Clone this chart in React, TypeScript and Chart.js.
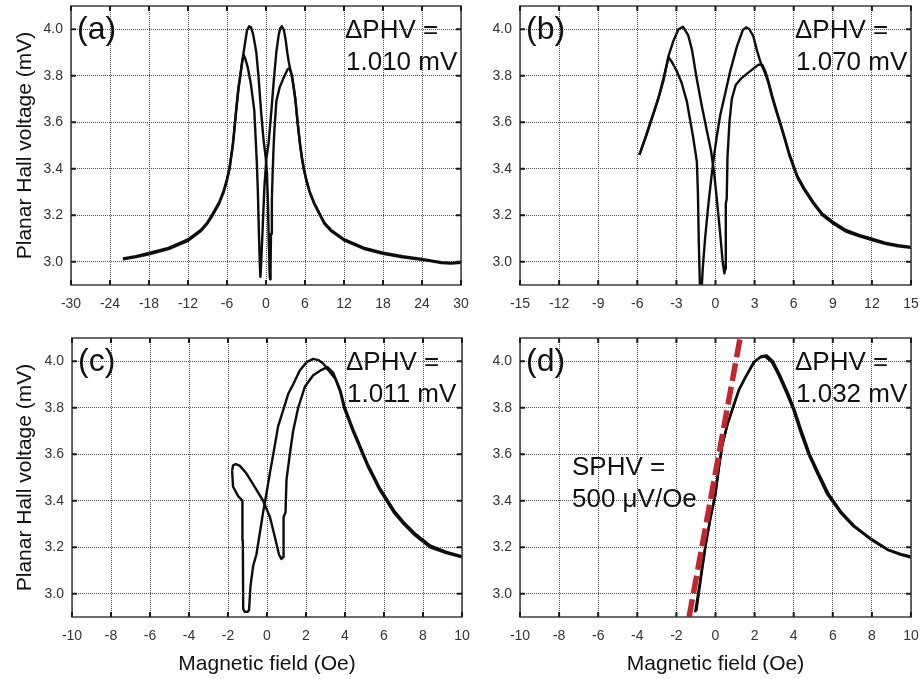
import React, { useEffect, useRef } from "react";
import { Chart, registerables } from "chart.js";

Chart.register(...registerables);

const W = 920;
const H = 679;
const FONT = "'Liberation Sans', Arial, Helvetica, sans-serif";

// ---- tick labels ----
const xTicksA = [-30, -24, -18, -12, -6, 0, 6, 12, 18, 24, 30];
const xTicksB = [-15, -12, -9, -6, -3, 0, 3, 6, 9, 12, 15];
const xTicksCD = [-10, -8, -6, -4, -2, 0, 2, 4, 6, 8, 10];
const yTicks = [3.0, 3.2, 3.4, 3.6, 3.8, 4.0];
const yRange = [2.9, 4.1];

// ---- texts ----
const panelLabels = ["(a)", "(b)", "(c)", "(d)"];
const deltaPHV = ["1.010 mV", "1.070 mV", "1.011 mV", "1.032 mV"];
const deltaPrefix = "\u0394PHV =";
const sphvText = ["SPHV =", "500 \u03bcV/Oe"];
const yTitleText = "Planar Hall voltage (mV)";
const xTitleText = "Magnetic field (Oe)";

// ---- series: [field (Oe), voltage (mV)] ----
const aDown: [number, number][] = [
  [30, 2.996], [28.5, 2.992], [27, 2.994], [25.5, 3.002], [24, 3.008], [21, 3.019], [18, 3.034],
  [15, 3.056], [12, 3.092], [10, 3.132], [9, 3.163], [8.3, 3.2], [7.4, 3.25], [6.7, 3.3],
  [6.2, 3.35], [5.8, 3.4], [5.5, 3.45], [5.25, 3.5], [5.05, 3.55], [4.85, 3.6], [4.68, 3.65],
  [4.5, 3.7], [4.25, 3.75], [4.0, 3.8], [3.74, 3.825], [3.5, 3.86], [3.3, 3.895], [3.02, 3.955],
  [2.75, 3.997], [2.45, 4.013], [2.2, 4.005], [1.95, 3.975], [1.6, 3.905], [1.2, 3.78],
  [0.8, 3.64], [0.4, 3.51], [0.05, 3.44], [-0.25, 3.32], [-0.55, 3.12], [-0.75, 2.99],
  [-0.86, 2.935], [-0.95, 2.99], [-1.1, 3.13], [-1.25, 3.3], [-1.4, 3.42], [-1.8, 3.65],
  [-2.3, 3.76], [-2.8, 3.835], [-3.2, 3.875], [-3.45, 3.89], [-3.65, 3.86], [-3.95, 3.8],
  [-4.2, 3.75], [-4.4, 3.7], [-4.58, 3.65], [-4.75, 3.6], [-4.92, 3.55], [-5.1, 3.5],
  [-5.35, 3.45], [-5.6, 3.4], [-6.0, 3.35], [-6.5, 3.3], [-7.2, 3.25], [-8.2, 3.2], [-9, 3.165],
  [-10, 3.132], [-12, 3.09], [-15, 3.054], [-18, 3.032], [-20, 3.02], [-22, 3.01],
];
const aUp: [number, number][] = [
  [-22, 3.014], [-20, 3.024], [-18, 3.038], [-15, 3.06], [-12, 3.096], [-10, 3.138], [-9, 3.17],
  [-8.2, 3.207], [-7.2, 3.257], [-6.5, 3.307], [-6.0, 3.357], [-5.6, 3.407], [-5.35, 3.457],
  [-5.1, 3.507], [-4.92, 3.557], [-4.75, 3.607], [-4.58, 3.657], [-4.4, 3.707], [-4.2, 3.757],
  [-3.95, 3.805], [-3.7, 3.855], [-3.5, 3.89], [-3.2, 3.945], [-2.92, 3.995], [-2.6, 4.013],
  [-2.3, 4.008], [-2.0, 3.98], [-1.7, 3.935], [-1.49, 3.9], [-1.13, 3.79], [-0.77, 3.65],
  [-0.36, 3.52], [-0.05, 3.45], [0.15, 3.38], [0.3, 3.25], [0.42, 3.1], [0.55, 2.95],
  [0.62, 2.925], [0.7, 2.97], [0.77, 3.12], [0.9, 3.27], [1.02, 3.38], [1.15, 3.48],
  [1.28, 3.56], [1.59, 3.69], [2.1, 3.75], [2.7, 3.79], [3.33, 3.828], [3.6, 3.832],
  [3.8, 3.818], [4.0, 3.795], [4.25, 3.754], [4.5, 3.704], [4.68, 3.654], [4.85, 3.604],
  [5.05, 3.554], [5.25, 3.504], [5.5, 3.454], [5.8, 3.404], [6.2, 3.354], [6.7, 3.304],
  [7.4, 3.254], [8.3, 3.205], [9, 3.168], [10, 3.137], [12, 3.097], [15, 3.061], [18, 3.039],
  [21, 3.024], [24, 3.012], [25.5, 3.005], [27, 2.998], [28.5, 2.995], [30, 2.999],
];

const bDown: [number, number][] = [
  [15, 3.06], [14, 3.066], [13, 3.077], [12, 3.093], [11, 3.11], [10, 3.13], [9, 3.165],
  [8.2, 3.2], [7.5, 3.25], [6.8, 3.31], [6.3, 3.36], [6.0, 3.405], [5.65, 3.46], [5.35, 3.52],
  [5.0, 3.585], [4.7, 3.64], [4.33, 3.71], [4.05, 3.77], [3.8, 3.812], [3.5, 3.85], [3.2, 3.905],
  [2.9, 3.97], [2.6, 4.0], [2.35, 4.008], [2.1, 3.997], [1.64, 3.925], [1.13, 3.82],
  [0.75, 3.725], [0.36, 3.63], [0.1, 3.54], [-0.1, 3.46], [-0.3, 3.37], [-0.54, 3.25],
  [-0.8, 3.1], [-0.98, 2.97], [-1.08, 2.86], [-1.18, 2.86], [-1.28, 3.08], [-1.35, 3.3],
  [-1.43, 3.43], [-1.7, 3.53], [-2.2, 3.69], [-2.6, 3.77], [-2.97, 3.82], [-3.3, 3.855],
  [-3.6, 3.88], [-3.9, 3.81], [-4.3, 3.72], [-4.7, 3.65], [-5.0, 3.6], [-5.4, 3.53], [-5.84, 3.46],
];
const bUp: [number, number][] = [
  [-5.84, 3.46], [-5.27, 3.55], [-4.5, 3.68], [-3.99, 3.78], [-3.6, 3.886], [-3.23, 3.95],
  [-2.84, 4.0], [-2.5, 4.011], [-2.1, 3.975], [-1.8, 3.91], [-1.45, 3.79], [-1.05, 3.67],
  [-0.65, 3.56], [-0.35, 3.48], [-0.1, 3.38], [0.1, 3.27], [0.36, 3.12], [0.55, 3.0],
  [0.68, 2.95], [0.74, 2.97], [0.78, 3.1], [0.8, 3.25], [0.86, 3.27], [0.92, 3.45],
  [1.07, 3.6], [1.25, 3.7], [1.55, 3.76], [2.0, 3.79], [2.66, 3.82], [3.3, 3.848],
  [3.6, 3.846], [3.85, 3.815], [4.08, 3.772], [4.35, 3.714], [4.7, 3.647], [5.0, 3.592],
  [5.35, 3.527], [5.65, 3.467], [6.0, 3.412], [6.3, 3.367], [6.8, 3.317], [7.5, 3.257],
  [8.2, 3.207], [9, 3.172], [10, 3.137], [11, 3.116], [12, 3.099], [13, 3.082], [14, 3.071], [15, 3.064],
];

const cDown: [number, number][] = [
  [10, 3.157], [9.2, 3.175], [8.36, 3.2], [7.6, 3.25], [7.0, 3.3], [6.5, 3.35], [6.13, 3.4],
  [5.75, 3.45], [5.45, 3.5], [5.15, 3.55], [4.9, 3.6], [4.65, 3.65], [4.4, 3.7], [4.17, 3.75],
  [3.95, 3.8], [3.75, 3.87], [3.5, 3.925], [3.14, 3.962], [2.88, 3.99], [2.63, 4.005],
  [2.37, 4.01], [2.03, 3.996], [1.68, 3.96], [1.34, 3.9], [1.09, 3.86], [0.83, 3.79],
  [0.57, 3.72], [0.32, 3.6], [0.15, 3.52], [-0.03, 3.43], [-0.2, 3.35], [-0.37, 3.26],
  [-0.54, 3.17], [-0.71, 3.12], [-0.85, 3.03], [-0.92, 2.93], [-1.0, 2.922], [-1.14, 2.922],
  [-1.22, 2.935], [-1.24, 3.23], [-1.26, 3.4], [-1.48, 3.42], [-1.74, 3.46], [-1.79, 3.53],
];
const cUp: [number, number][] = [
  [-1.79, 3.53], [-1.74, 3.552], [-1.6, 3.558], [-1.39, 3.55], [-1.05, 3.517], [-0.71, 3.47],
  [-0.2, 3.4], [0.15, 3.33], [0.4, 3.245], [0.62, 3.167], [0.74, 3.15], [0.83, 3.158],
  [0.85, 3.33], [0.95, 3.35], [1.0, 3.49], [1.17, 3.6], [1.34, 3.7], [1.6, 3.8], [1.94, 3.89],
  [2.37, 3.94], [2.8, 3.963], [3.1, 3.975], [3.4, 3.95], [3.75, 3.878], [3.97, 3.807],
  [4.19, 3.757], [4.42, 3.707], [4.67, 3.657], [4.92, 3.607], [5.17, 3.557], [5.47, 3.507],
  [5.77, 3.457], [6.15, 3.407], [6.52, 3.357], [7.02, 3.307], [7.62, 3.257], [8.38, 3.207],
  [9.2, 3.18], [10, 3.161],
];

const dDown: [number, number][] = [
  [10, 3.156], [9.45, 3.168], [8.77, 3.19], [7.92, 3.235], [7.06, 3.29], [6.38, 3.35],
  [5.7, 3.43], [5.19, 3.52], [4.76, 3.6], [4.33, 3.7], [3.99, 3.79], [3.65, 3.86], [3.23, 3.94],
  [2.88, 3.996], [2.54, 4.02], [2.29, 4.017], [1.95, 3.996], [1.52, 3.93], [1.18, 3.875],
  [0.84, 3.79], [0.58, 3.72], [0.32, 3.63], [0.15, 3.53], [-0.02, 3.42], [-0.27, 3.32],
  [-0.53, 3.2], [-0.78, 3.06], [-1.04, 2.92],
];
const dUp: [number, number][] = [
  [-0.98, 2.925], [-0.74, 3.07], [-0.5, 3.21], [-0.25, 3.33], [0.0, 3.43], [0.17, 3.54],
  [0.35, 3.64], [0.6, 3.725], [0.88, 3.795], [1.22, 3.88], [1.56, 3.935], [2.0, 3.998],
  [2.35, 4.022], [2.62, 4.025], [2.95, 3.998], [3.3, 3.94], [3.72, 3.86], [4.05, 3.79],
  [4.4, 3.7], [4.82, 3.6], [5.26, 3.52], [5.78, 3.43], [6.45, 3.35], [7.12, 3.29],
  [7.98, 3.235], [8.82, 3.19], [9.5, 3.17], [10, 3.16],
];
const slopeLine: [number, number][] = [[-1.35, 2.9], [1.26, 4.1]];

// ---- layout (chart-area rectangles in page pixels: left, top, right, bottom) ----
type PanelCfg = {
  area: [number, number, number, number];
  xTicks: number[];
  series: [number, number][][];
  yTitle: boolean;
  xTitle: boolean;
  idx: number;
  slope?: boolean;
};

const panels: PanelCfg[] = [
  { area: [71, 6, 461, 285], xTicks: xTicksA, series: [aDown, aUp], yTitle: true, xTitle: false, idx: 0 },
  { area: [520, 6, 911, 285], xTicks: xTicksB, series: [bDown, bUp], yTitle: false, xTitle: false, idx: 1 },
  { area: [72, 338, 462, 617], xTicks: xTicksCD, series: [cDown, cUp], yTitle: true, xTitle: true, idx: 2 },
  { area: [520, 338, 911, 617], xTicks: xTicksCD, series: [dDown, dUp], yTitle: false, xTitle: true, idx: 3, slope: true },
];

const decorPlugin = {
  id: "decor",
  afterDraw(chart: any, _args: any, opts: any) {
    const { ctx, chartArea: a, scales } = chart;
    ctx.save();
    // frame
    ctx.strokeStyle = "#3c3c3c";
    ctx.lineWidth = 1.5;
    ctx.strokeRect(a.left, a.top, a.right - a.left, a.bottom - a.top);
    // inward tick marks
    ctx.strokeStyle = "#1a1a1a";
    ctx.lineWidth = 2;
    ctx.beginPath();
    for (const t of scales.x.ticks) {
      const px = scales.x.getPixelForValue(t.value);
      ctx.moveTo(px, a.bottom);
      ctx.lineTo(px, a.bottom - 5);
      ctx.moveTo(px, a.top);
      ctx.lineTo(px, a.top + 5);
    }
    for (const t of scales.y.ticks) {
      const py = scales.y.getPixelForValue(t.value);
      ctx.moveTo(a.left, py);
      ctx.lineTo(a.left + 5, py);
      ctx.moveTo(a.right, py);
      ctx.lineTo(a.right - 5, py);
    }
    ctx.stroke();
    // annotations
    ctx.fillStyle = "#111";
    ctx.textAlign = "left";
    ctx.textBaseline = "alphabetic";
    ctx.font = `32px ${FONT}`;
    ctx.fillText(opts.label, a.left + 6, a.top + 33);
    ctx.font = `26px ${FONT}`;
    ctx.fillText(deltaPrefix, a.right - 116, a.top + 32);
    ctx.fillText(opts.delta, a.right - 115, a.top + 64);
    if (opts.sphv) {
      ctx.fillText(sphvText[0], a.left + 52, a.top + 137);
      ctx.fillText(sphvText[1], a.left + 52, a.top + 169);
    }
    ctx.restore();
  },
};

function buildConfig(p: PanelCfg): any {
  const [L, T, R, B] = p.area;
  const yW = p.yTitle ? L : 50;
  const xH = p.xTitle ? H - B : 35;
  const datasets: any[] = p.series.map((s) => ({
    data: s.map(([x, y]) => ({ x, y })),
    showLine: true,
    borderColor: "#0d0d0d",
    borderWidth: 2.4,
    borderJoinStyle: "round",
    pointRadius: 0,
    tension: 0,
    fill: false,
    order: 1,
  }));
  if (p.slope) {
    datasets.push({
      data: slopeLine.map(([x, y]) => ({ x, y })),
      showLine: true,
      borderColor: "#C1272D",
      borderWidth: 5.5,
      borderDash: [18, 6],
      pointRadius: 0,
      tension: 0,
      fill: false,
      order: 0,
    });
  }
  const xTicks = p.xTicks;
  return {
    type: "scatter",
    data: { datasets },
    plugins: [decorPlugin],
    options: {
      animation: false,
      responsive: false,
      events: [],
      layout: { padding: { left: L - yW, top: T, right: W - R, bottom: H - B - xH } },
      plugins: {
        legend: { display: false },
        tooltip: { enabled: false },
        decor: { label: panelLabels[p.idx], delta: deltaPHV[p.idx], sphv: !!p.slope },
      },
      scales: {
        x: {
          type: "linear",
          min: xTicks[0],
          max: xTicks[xTicks.length - 1],
          afterBuildTicks: (s: any) => {
            s.ticks = xTicks.map((v) => ({ value: v }));
          },
          afterFit: (s: any) => {
            s.height = xH;
            s.paddingLeft = 0;
            s.paddingRight = 0;
            s.paddingTop = 0;
            s.paddingBottom = 0;
          },
          grid: { color: "#505050", lineWidth: 1, drawTicks: false },
          border: { display: false, dash: [1, 1] },
          ticks: {
            padding: 11,
            color: "#333",
            font: { family: FONT, size: 14 },
            maxRotation: 0,
            autoSkip: false,
            callback: (v: any) => String(v),
          },
          title: {
            display: p.xTitle,
            text: xTitleText,
            color: "#111",
            font: { family: FONT, size: 21 },
            padding: { top: 0, bottom: 2 },
          },
        },
        y: {
          type: "linear",
          min: yRange[0],
          max: yRange[1],
          afterBuildTicks: (s: any) => {
            s.ticks = yTicks.map((v) => ({ value: v }));
          },
          afterFit: (s: any) => {
            s.width = yW;
            s.paddingLeft = 0;
            s.paddingRight = 0;
            s.paddingTop = 0;
            s.paddingBottom = 0;
          },
          grid: { color: "#505050", lineWidth: 1, drawTicks: false },
          border: { display: false, dash: [1, 1] },
          ticks: {
            padding: 8,
            color: "#333",
            font: { family: FONT, size: 14 },
            autoSkip: false,
            callback: (v: any) => Number(v).toFixed(1),
          },
          title: {
            display: p.yTitle,
            text: yTitleText,
            color: "#111",
            font: { family: FONT, size: 21 },
            padding: { top: 13, bottom: 0 },
          },
        },
      },
    },
  };
}

export default function App() {
  const refs = useRef<(HTMLCanvasElement | null)[]>([]);
  useEffect(() => {
    const charts = panels.map((p, i) => new Chart(refs.current[i] as HTMLCanvasElement, buildConfig(p)));
    return () => charts.forEach((c) => c.destroy());
  }, []);
  return (
    <div style={{ position: "absolute", left: 0, top: 0, width: W, height: H, background: "#fff" }}>
      {panels.map((p, i) => (
        <canvas
          key={i}
          ref={(el) => {
            refs.current[i] = el;
          }}
          width={W}
          height={H}
          style={{ position: "absolute", left: 0, top: 0 }}
        />
      ))}
    </div>
  );
}
